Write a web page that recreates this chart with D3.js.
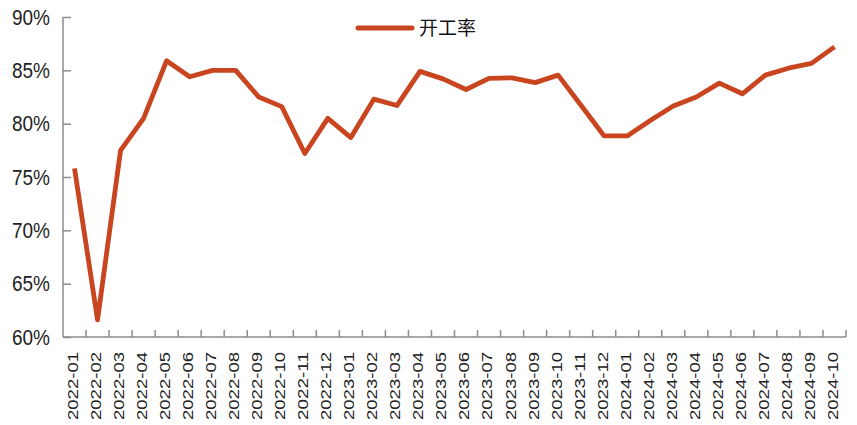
<!DOCTYPE html>
<html>
<head>
<meta charset="utf-8">
<script src="https://cdn.jsdelivr.net/npm/d3@7"></script>
<style>
  body { margin: 0; background: #fff; }
  svg { display: block; font-family: "Liberation Sans", Arial, sans-serif; }
  .axis .domain { stroke: #8c8c8c; stroke-width: 1.5; }
  .axis .tick line { stroke: #8c8c8c; stroke-width: 1.5; }
  .axis text { fill: #222; }
</style>
</head>
<body>
<svg id="chart" width="857" height="425"></svg>
<script>
const months = [
  '2022-01','2022-02','2022-03','2022-04','2022-05','2022-06','2022-07','2022-08','2022-09','2022-10','2022-11','2022-12',
  '2023-01','2023-02','2023-03','2023-04','2023-05','2023-06','2023-07','2023-08','2023-09','2023-10','2023-11','2023-12',
  '2024-01','2024-02','2024-03','2024-04','2024-05','2024-06','2024-07','2024-08','2024-09','2024-10'
]
// 开工率
const rate = [
  75.8, 61.6, 77.5, 80.5, 85.9, 84.4, 85.0, 85.0, 82.5, 81.6, 77.2, 80.5,
  78.7, 82.3, 81.7, 84.9, 84.2, 83.2, 84.25, 84.3, 83.85, 84.55, 81.7, 78.85,
  78.85, 80.3, 81.65, 82.5, 83.8, 82.8, 84.55, 85.2, 85.65, 87.2
]
const yTicks = [60, 65, 70, 75, 80, 85, 90]
const seriesName = '开工率'

const margin = { top: 17, right: 11, bottom: 88, left: 63 }
const width = 857
const height = 425

const svg = d3.select('#chart')

const xScale = d3.scaleBand()
  .domain(months)
  .range([margin.left, width - margin.right])

const yScale = d3.scaleLinear()
  .domain([60, 90])
  .range([height - margin.bottom, margin.top])

// y axis, ticks pointing inside
const yAxisG = svg.append('g')
  .attr('class', 'axis')
  .attr('transform', `translate(${margin.left},0)`)
  .call(d3.axisLeft(yScale).tickValues(yTicks).tickSize(-8).tickPadding(13).tickFormat(d => d + '%'))
yAxisG.select('.domain').attr('d', `M0,${yScale(90)}V${yScale(60)}`)
yAxisG.selectAll('text')
  .attr('font-size', 20)
  .attr('textLength', 38)
  .attr('lengthAdjust', 'spacingAndGlyphs')
  .attr('transform', 'scale(1,1.1)')

// x axis
const xAxisG = svg.append('g')
  .attr('class', 'axis')
  .attr('transform', `translate(0,${height - margin.bottom})`)
  .call(d3.axisBottom(xScale).tickSize(0))
xAxisG.select('.domain').attr('d', `M${margin.left},0H${width - margin.right}`)
xAxisG.selectAll('.tick text')
  .attr('transform', 'rotate(-90)')
  .attr('x', -15)
  .attr('y', -2)
  .attr('dy', '0.35em')
  .attr('text-anchor', 'end')
  .attr('font-size', 15.5)
  .attr('textLength', 68)
  .attr('lengthAdjust', 'spacingAndGlyphs')

// category boundary ticks, pointing up
xAxisG.selectAll('.sep')
  .data(months)
  .enter()
  .append('line')
  .attr('class', 'sep')
  .attr('x1', d => xScale(d) + xScale.bandwidth())
  .attr('x2', d => xScale(d) + xScale.bandwidth())
  .attr('y1', 0)
  .attr('y2', -7)
  .attr('stroke', '#8c8c8c')
  .attr('stroke-width', 1.5)

// line
const line = d3.line()
  .x((d, i) => xScale(months[i]) + xScale.bandwidth() / 2)
  .y(d => yScale(d))

svg.append('path')
  .datum(rate)
  .attr('d', line)
  .attr('fill', 'none')
  .attr('stroke', '#c8451f')
  .attr('stroke-width', 4.8)
  .attr('stroke-linejoin', 'round')

// legend
const legend = svg.append('g').attr('transform', 'translate(358,28)')
legend.append('line')
  .attr('x1', 0).attr('x2', 54)
  .attr('stroke', '#c8451f')
  .attr('stroke-width', 5)
  .attr('stroke-linecap', 'round')
legend.append('text')
  .attr('x', 61)
  .attr('dy', '0.36em')
  .attr('font-size', 19)
  .attr('font-family', '"Noto Sans CJK SC", sans-serif')
  .attr('fill', '#111')
  .text(seriesName)
</script>
</body>
</html>
